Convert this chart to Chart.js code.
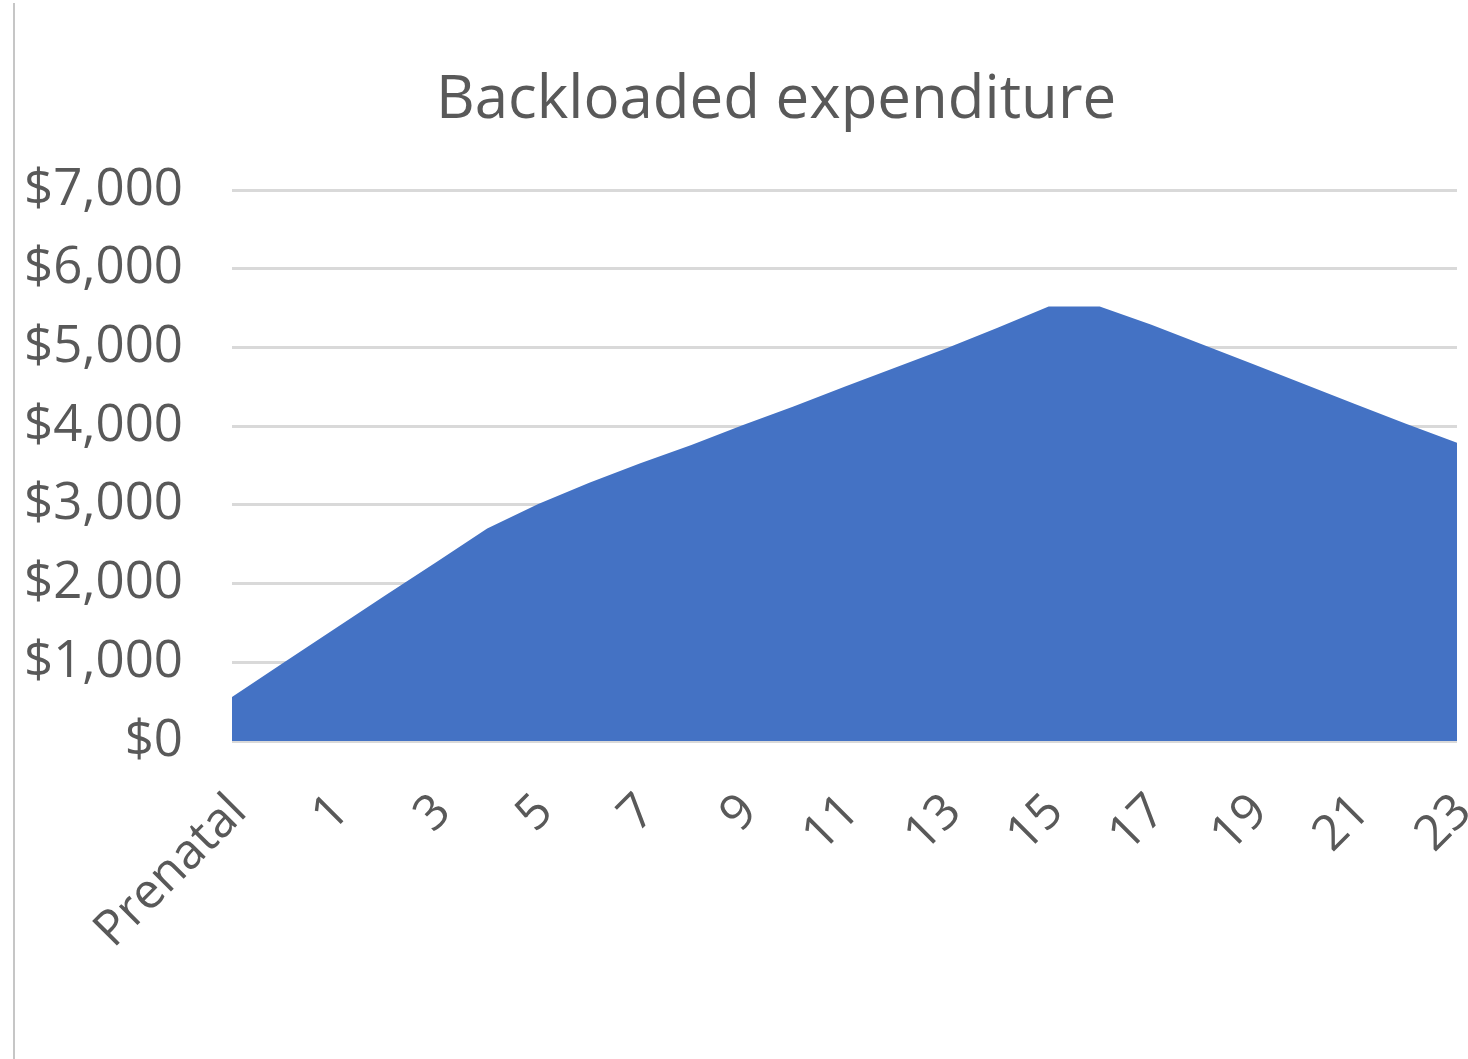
<!DOCTYPE html>
<html>
<head>
<meta charset="utf-8">
<script src="https://cdn.jsdelivr.net/npm/chart.js@4.4.1/dist/chart.umd.min.js"></script>
<style>
  html, body { margin: 0; padding: 0; background: #ffffff; }
  #wrap { position: relative; width: 1468px; height: 1059px; }
  #frame { position: absolute; left: 13px; top: 3px; bottom: 0; border-left: 2px solid #c6c6c6; }
  canvas { position: absolute; left: 0; top: 0; }
</style>
</head>
<body>
<div id="wrap">
  <div id="frame"></div>
  <canvas id="spend" width="1468" height="1059"></canvas>
</div>
<script>
  // Age categories: prenatal year, then ages 0 to 23
  const ages = ["Prenatal", "0", "1", "2", "3", "4", "5", "6", "7", "8", "9", "10", "11",
                "12", "13", "14", "15", "16", "17", "18", "19", "20", "21", "22", "23"];

  // Yearly spending in dollars
  const spending = [560, 990, 1420, 1850, 2270, 2700, 3010, 3280, 3530, 3760, 4010, 4250, 4500,
                    4745, 4990, 5250, 5520, 5520, 5290, 5040, 4790, 4535, 4280, 4030, 3790];

  const yTicks = [0, 1000, 2000, 3000, 4000, 5000, 6000, 7000];

  const chartTitle = "Backloaded expenditure";
  const textGrey = "#595959";
  const fontFamily = "'Open Sans', sans-serif";

  // title sits a bit right of the canvas centre, like the original workbook chart
  const titlePlugin = {
    id: "sheetTitle",
    afterDraw(chart) {
      const c = chart.ctx;
      c.save();
      c.fillStyle = textGrey;
      c.font = "60px " + fontFamily;
      c.textAlign = "center";
      c.textBaseline = "alphabetic";
      c.fillText(chartTitle, 776, 118);
      c.restore();
    }
  };

  const ctx = document.getElementById("spend").getContext("2d");
  new Chart(ctx, {
    type: "line",
    data: {
      labels: ages,
      datasets: [{
        label: chartTitle,
        data: spending,
        fill: "origin",
        backgroundColor: "#4472c4",
        borderWidth: 0,
        pointRadius: 0,
        tension: 0
      }]
    },
    plugins: [titlePlugin],
    options: {
      responsive: false,
      animation: false,
      layout: { padding: { left: 0, right: 11, top: 190, bottom: 0 } },
      plugins: {
        legend: { display: false },
        tooltip: { enabled: false },
        title: { display: false }
      },
      scales: {
        x: {
          offset: false,
          grid: { display: false, drawTicks: false },
          border: { display: false },
          afterFit: function(scale) {
            scale.height = 318;
            scale.paddingLeft = 0;
            scale.paddingRight = 0;
          },
          ticks: {
            autoSkip: false,
            maxRotation: 45,
            minRotation: 45,
            padding: 42,
            labelOffset: 7,
            color: textGrey,
            font: { family: fontFamily, size: 49 },
            callback: function(value, index) {
              return index % 2 === 0 ? ages[index] : "";
            }
          }
        },
        y: {
          min: 0,
          max: 7000,
          afterFit: function(scale) {
            scale.width = 232;
            scale.paddingTop = 0;
            scale.paddingBottom = 0;
          },
          afterBuildTicks: function(scale) {
            scale.ticks = yTicks.map(v => ({ value: v }));
          },
          grid: { color: "#d9d9d9", lineWidth: 3, drawTicks: false },
          border: { display: false },
          ticks: {
            padding: 49,
            color: textGrey,
            font: { family: fontFamily, size: 51 },
            callback: function(value) {
              return "$" + value.toLocaleString("en-US");
            }
          }
        }
      }
    }
  });
</script>
</body>
</html>
